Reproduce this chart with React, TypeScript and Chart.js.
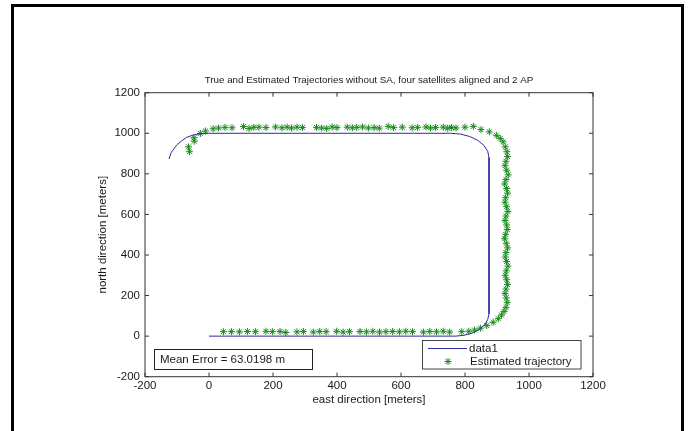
import React, { useEffect, useRef } from "react";
import { Chart, registerables } from "chart.js";

Chart.register(...registerables);

// ---------- text ----------
const TITLE = "True and Estimated Trajectories without SA, four satellites aligned and 2 AP";
const X_LABEL = "east direction [meters]";
const Y_LABEL = "north direction [meters]";
const LEGEND_LABELS = ["data1", "Estimated trajectory"];
const MEAN_ERROR_TEXT = "Mean Error = 63.0198 m";

// ---------- axes ----------
const AXIS_MIN = -200;
const AXIS_MAX = 1200;
const AXIS_STEP = 200;

// ---------- true trajectory (data1) ----------
const TRUE_X = [
  -125, -118, -101, -85, -70, -50, -30, 0,
  755, 786, 815, 840, 859, 871, 875,
  875, 871, 861, 844, 822, 797, 770,
  0,
];
const TRUE_Y = [
  873, 905, 942, 963, 980, 991, 997, 1000,
  1000, 996, 984, 965, 940, 911, 880,
  110, 82, 55, 32, 15, 4, 0,
  0,
];

// ---------- estimated trajectory ----------
const EST_START_X = [-64, -61, -47, -46, -27, -11];
const EST_START_Y = [933, 909, 978, 961, 999, 1011];

const EST_TOP_X = [
  13, 30, 50, 72, 108, 125, 140, 156, 178, 208, 228, 244, 258, 275, 292,
  336, 352, 368, 385, 400, 432, 448, 462, 480, 498, 516, 532, 560, 577,
  604, 635, 652, 678, 692, 708, 732, 746, 758, 772, 800,
];
const EST_TOP_Y = [
  1022, 1026, 1029, 1027, 1033, 1024, 1029, 1030, 1028, 1031, 1027, 1030, 1026, 1030, 1028,
  1029, 1026, 1024, 1031, 1028, 1030, 1027, 1029, 1031, 1026, 1028, 1025, 1034, 1028,
  1030, 1027, 1029, 1031, 1026, 1028, 1030, 1025, 1028, 1026, 1030,
];

const EST_CORNER_TOP_X = [826, 850, 876, 898, 910, 919, 926, 931];
const EST_CORNER_TOP_Y = [1034, 1018, 1007, 990, 975, 958, 933, 909];

const EST_RIGHT_X = [
  933, 928, 925, 930, 935, 928, 924, 930, 933, 927, 925, 930, 934, 928, 925, 930, 932,
  927, 924, 929, 933, 928, 926, 930, 934, 929, 926, 930, 933, 928, 925, 929, 932, 928,
];
const EST_RIGHT_Y = [
  885, 862, 840, 818, 795, 772, 750, 728, 705, 682, 660, 638, 615, 592, 570, 548, 525,
  502, 480, 458, 435, 412, 390, 368, 345, 322, 300, 278, 255, 232, 210, 188, 165, 142,
];

const EST_CORNER_BOTTOM_X = [922, 914, 904, 888, 868, 848, 830, 812];
const EST_CORNER_BOTTOM_Y = [122, 104, 86, 68, 52, 39, 30, 24];

const EST_BOTTOM_X = [
  790, 752, 732, 711, 690, 670, 636, 615, 595, 574, 553, 533, 512, 492, 472, 439,
  419, 399, 366, 346, 326, 295, 275, 240, 222, 198, 178, 145, 120, 95, 70, 45,
];
const EST_BOTTOM_Y = [
  22, 20, 24, 21, 23, 20, 22, 24, 21, 23, 22, 20, 24, 21, 23, 22,
  20, 24, 22, 23, 20, 23, 21, 18, 23, 22, 24, 22, 23, 21, 22, 22,
];

// ---------- style ----------
const FONT_FAMILY = "'Liberation Sans', Arial, Helvetica, sans-serif";
const TEXT_COLOR = "#1a1a1a";
const AXIS_COLOR = "#333333";
const LINE_COLOR = "#2c2c9c";
const STAR_COLOR = "#16891a";

const W = 693;
const H = 431;
const PLOT_LEFT = 145;
const PLOT_RIGHT = 593;
const PLOT_TOP = 92.7;
const PLOT_BOTTOM = 376.7;

function zip(xs: number[], ys: number[]) {
  return xs.map((x, i) => ({ x, y: ys[i] }));
}

function drawStar(ctx: CanvasRenderingContext2D, x: number, y: number, r: number) {
  const d = r * Math.SQRT1_2;
  ctx.beginPath();
  ctx.moveTo(x - r, y);
  ctx.lineTo(x + r, y);
  ctx.moveTo(x, y - r);
  ctx.lineTo(x, y + r);
  ctx.moveTo(x - d, y - d);
  ctx.lineTo(x + d, y + d);
  ctx.moveTo(x - d, y + d);
  ctx.lineTo(x + d, y - d);
  ctx.stroke();
}

const decorPlugin = {
  id: "decor",
  afterDatasetsDraw(chart: any) {
    const ctx: CanvasRenderingContext2D = chart.ctx;
    const { left, right, top, bottom } = chart.chartArea;
    const xs = chart.scales.x;
    const ys = chart.scales.y;
    ctx.save();
    // box
    ctx.strokeStyle = AXIS_COLOR;
    ctx.lineWidth = 1;
    ctx.strokeRect(left, top, right - left, bottom - top);
    // inward ticks on all sides
    const tl = 4;
    ctx.beginPath();
    for (let v = AXIS_MIN; v <= AXIS_MAX; v += AXIS_STEP) {
      const px = xs.getPixelForValue(v);
      ctx.moveTo(px, bottom);
      ctx.lineTo(px, bottom - tl);
      ctx.moveTo(px, top);
      ctx.lineTo(px, top + tl);
      const py = ys.getPixelForValue(v);
      ctx.moveTo(left, py);
      ctx.lineTo(left + tl, py);
      ctx.moveTo(right, py);
      ctx.lineTo(right - tl, py);
    }
    ctx.stroke();

    // title
    ctx.fillStyle = TEXT_COLOR;
    ctx.font = `9.8px ${FONT_FAMILY}`;
    ctx.textAlign = "center";
    ctx.textBaseline = "middle";
    ctx.fillText(TITLE, (left + right) / 2, 80);

    // mean error box
    ctx.fillStyle = "#ffffff";
    ctx.fillRect(154.5, 349.5, 158, 20);
    ctx.strokeStyle = "#222222";
    ctx.strokeRect(154.5, 349.5, 158, 20);
    ctx.fillStyle = TEXT_COLOR;
    ctx.font = `11.5px ${FONT_FAMILY}`;
    ctx.textAlign = "left";
    ctx.fillText(MEAN_ERROR_TEXT, 160, 359.5);

    // legend box
    ctx.fillStyle = "#ffffff";
    ctx.fillRect(422.5, 340.5, 158.5, 28.5);
    ctx.strokeStyle = "#444444";
    ctx.strokeRect(422.5, 340.5, 158.5, 28.5);
    ctx.strokeStyle = LINE_COLOR;
    ctx.beginPath();
    ctx.moveTo(428, 348.5);
    ctx.lineTo(467, 348.5);
    ctx.stroke();
    ctx.strokeStyle = STAR_COLOR;
    ctx.lineWidth = 1;
    drawStar(ctx, 448, 361.5, 3.5);
    ctx.fillStyle = TEXT_COLOR;
    ctx.font = `11.5px ${FONT_FAMILY}`;
    ctx.fillText(LEGEND_LABELS[0], 469, 348.5);
    ctx.fillText(LEGEND_LABELS[1], 470, 362);
    ctx.restore();
  },
};

export default function App() {
  const canvasRef = useRef<HTMLCanvasElement | null>(null);

  useEffect(() => {
    const canvas = canvasRef.current;
    if (!canvas) return;
    const tickFont = { family: FONT_FAMILY, size: 11.5 };
    const plainTick = (v: any) => String(v);
    const estimated = [
      ...zip(EST_START_X, EST_START_Y),
      ...zip(EST_TOP_X, EST_TOP_Y),
      ...zip(EST_CORNER_TOP_X, EST_CORNER_TOP_Y),
      ...zip(EST_RIGHT_X, EST_RIGHT_Y),
      ...zip(EST_CORNER_BOTTOM_X, EST_CORNER_BOTTOM_Y),
      ...zip(EST_BOTTOM_X, EST_BOTTOM_Y),
    ];
    const chart = new Chart(canvas, {
      type: "scatter",
      data: {
        datasets: [
          {
            label: LEGEND_LABELS[0],
            data: zip(TRUE_X, TRUE_Y),
            showLine: true,
            borderColor: LINE_COLOR,
            backgroundColor: LINE_COLOR,
            borderWidth: 1,
            pointRadius: 0,
            tension: 0,
            fill: false,
          },
          {
            label: LEGEND_LABELS[1],
            data: estimated,
            showLine: false,
            pointStyle: "star",
            pointRadius: 3.5,
            borderColor: STAR_COLOR,
            backgroundColor: STAR_COLOR,
            borderWidth: 1,
          },
        ],
      },
      options: {
        animation: false,
        responsive: false,
        maintainAspectRatio: false,
        devicePixelRatio: 1,
        layout: {
          padding: { left: 0, top: PLOT_TOP, right: W - PLOT_RIGHT, bottom: 0 },
        },
        plugins: {
          legend: { display: false },
          tooltip: { enabled: false },
          title: { display: false },
        },
        scales: {
          x: {
            type: "linear",
            position: "bottom",
            min: AXIS_MIN,
            max: AXIS_MAX,
            ticks: {
              stepSize: AXIS_STEP,
              font: tickFont,
              color: TEXT_COLOR,
              padding: 2,
              maxRotation: 0,
              autoSkip: false,
              callback: plainTick,
            },
            grid: { display: false, drawTicks: false },
            border: { display: false },
            title: {
              display: true,
              text: X_LABEL,
              font: tickFont,
              color: TEXT_COLOR,
              padding: { top: 0, bottom: 24 },
            },
            afterFit: (s: any) => {
              s.height = H - PLOT_BOTTOM;
            },
          },
          y: {
            type: "linear",
            position: "left",
            min: AXIS_MIN,
            max: AXIS_MAX,
            ticks: {
              stepSize: AXIS_STEP,
              font: tickFont,
              color: TEXT_COLOR,
              padding: 5,
              autoSkip: false,
              callback: plainTick,
            },
            grid: { display: false, drawTicks: false },
            border: { display: false },
            title: {
              display: true,
              text: Y_LABEL,
              font: tickFont,
              color: TEXT_COLOR,
              padding: { top: 96, bottom: 0 },
            },
            afterFit: (s: any) => {
              s.width = PLOT_LEFT;
            },
          },
        },
      },
      plugins: [decorPlugin],
    } as any);
    return () => chart.destroy();
  }, []);

  return (
    <div
      style={{
        position: "fixed",
        left: 0,
        top: 0,
        width: W,
        height: H,
        overflow: "hidden",
        background: "#ffffff",
      }}
    >
      <canvas ref={canvasRef} width={W} height={H} style={{ display: "block" }} />
      <div
        style={{
          position: "absolute",
          left: 11,
          top: 4,
          width: 673,
          height: 480,
          border: "3px solid #000",
          boxSizing: "border-box",
          pointerEvents: "none",
        }}
      />
    </div>
  );
}
